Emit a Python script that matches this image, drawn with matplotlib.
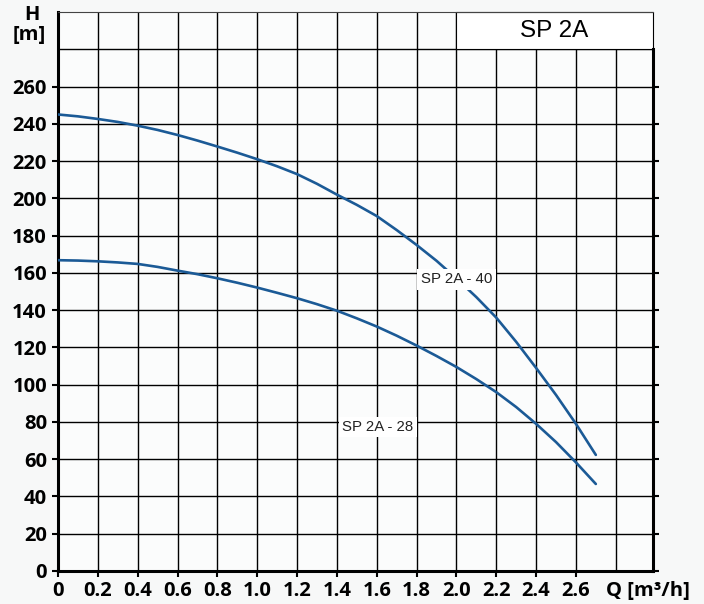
import matplotlib
matplotlib.use("Agg")
import matplotlib.pyplot as plt
from matplotlib.patches import Rectangle

# ---- data ----
q = [0.0, 0.1, 0.2, 0.3, 0.4, 0.5, 0.6, 0.7, 0.8, 0.9, 1.0, 1.1, 1.2, 1.3, 1.4,
     1.5, 1.6, 1.7, 1.8, 1.9, 2.0, 2.1, 2.2, 2.3, 2.4, 2.5, 2.6, 2.7]
h_40 = [245.0, 244.0, 242.6, 241.0, 239.0, 236.7, 234.0, 231.0, 227.8, 224.5, 221.0,
        217.2, 213.0, 207.8, 202.0, 196.5, 190.5, 183.0, 175.0, 166.5, 157.0, 147.0,
        136.0, 123.0, 109.0, 94.5, 79.0, 62.3]
h_28 = [166.8, 166.6, 166.2, 165.6, 164.8, 163.2, 161.2, 159.3, 157.1, 154.7, 152.1,
        149.3, 146.4, 143.2, 139.7, 135.6, 131.2, 126.3, 121.0, 115.4, 109.5, 103.0,
        96.0, 88.0, 79.0, 69.2, 58.3, 46.7]
series_names = ["SP 2A - 40", "SP 2A - 28"]
title = "SP 2A"
x_ticks = [0, 0.2, 0.4, 0.6, 0.8, 1.0, 1.2, 1.4, 1.6, 1.8, 2.0, 2.2, 2.4, 2.6]
x_tick_labels = ["0", "0.2", "0.4", "0.6", "0.8", "1.0", "1.2", "1.4", "1.6", "1.8", "2.0", "2.2", "2.4", "2.6"]
y_ticks = list(range(0, 261, 20))
x_grid = [0.2 * i for i in range(1, 15)]
y_grid = list(range(20, 281, 20))

W, H = 704, 604
fig = plt.figure(figsize=(W / 100, H / 100), dpi=100, facecolor="#f7f8f8")
L, R, B, T = 58, 653, 571, 12
ax = fig.add_axes([L / W, 1 - B / H, (R - L) / W, (B - T) / H])
ax.set_facecolor("#fbfcfc")
ax.set_xlim(0, 2.987)
ax.set_ylim(0, 300)

# grid
for xv in x_grid:
    ax.axvline(xv, color="black", lw=1.0, zorder=1)
for yv in y_grid:
    ax.axhline(yv, color="black", lw=1.0, zorder=1)

# title box covering grid at top-right
ax.add_patch(Rectangle((2.0, 280), 0.987, 20, facecolor="white", edgecolor="black",
                       lw=0.8, zorder=2, clip_on=False))
ax.text(2.49, 290, title, ha="center", va="center", fontsize=17.5,
        family="Liberation Sans", zorder=3)

color = "#1b5a96"
ax.plot(q, h_40, color=color, lw=1.9, zorder=4, solid_capstyle="round")
ax.plot(q, h_28, color=color, lw=1.9, zorder=4, solid_capstyle="round")

bbox = dict(facecolor="white", edgecolor="none", pad=2.5)
ax.text(2.0, 156.6, series_names[0], ha="center", va="center", fontsize=10.8,
        family="Liberation Sans", color="#222222", bbox=bbox, zorder=5)
ax.text(1.605, 77.3, series_names[1], ha="center", va="center", fontsize=10.8,
        family="Liberation Sans", color="#222222", bbox=bbox, zorder=5)

# spines
for s in ["left", "bottom"]:
    ax.spines[s].set_linewidth(2.2)
    ax.spines[s].set_color("black")
ax.spines["right"].set_linewidth(2.2)
ax.spines["right"].set_bounds(0, 280)
ax.spines["top"].set_linewidth(0.8)
ax.spines["top"].set_color("#444444")

tick_font = dict(family="Open Sans", weight="bold", size=14.5)
ax.set_xticks(x_ticks)
ax.set_xticklabels(x_tick_labels, fontdict=tick_font)
ax.set_yticks(y_ticks)
ax.set_yticklabels([str(v) for v in y_ticks], fontdict=tick_font)
ax.tick_params(axis="both", direction="out", length=4, width=1.5, color="black")
ax.tick_params(axis="y", right=True, pad=4)
ax.tick_params(axis="x", pad=3)

fig.text(32 / W, 1 - 15 / H, "H", ha="center", va="center", family="Open Sans",
         weight="bold", fontsize=14.5)
fig.text(29.5 / W, 1 - 35 / H, "[m]", ha="center", va="center", family="Open Sans",
         weight="bold", fontsize=14.5)
fig.text(648 / W, 1 - 591 / H, "Q [m³/h]", ha="center", va="center", family="Open Sans",
         weight="bold", fontsize=14.5)

fig.savefig("out.png", dpi=100, facecolor=fig.get_facecolor())
